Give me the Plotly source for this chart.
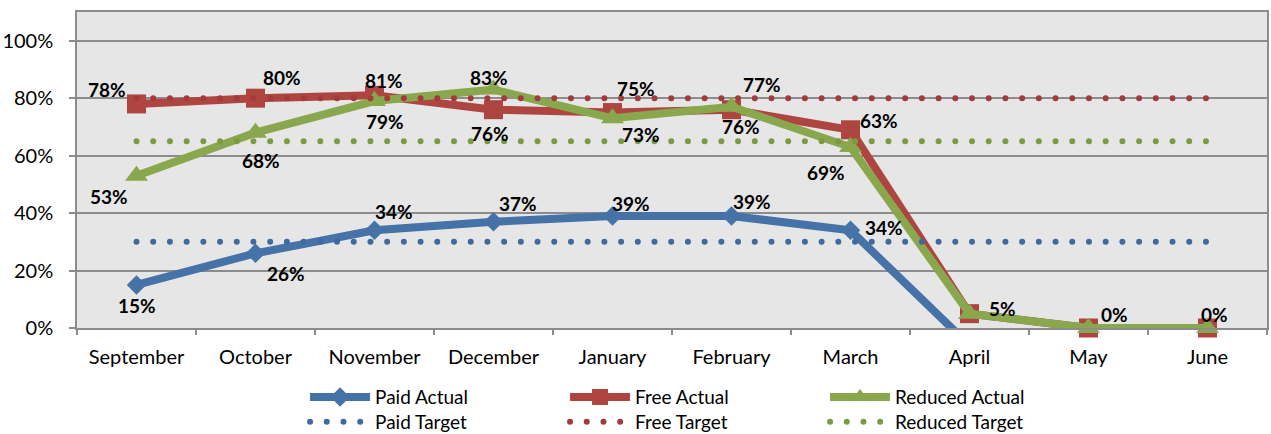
import plotly.graph_objects as go

months = ["September", "October", "November", "December", "January",
          "February", "March", "April", "May", "June"]

paid_actual = [15, 26, 34, 37, 39, 39, 34, -6, 0, 0]
free_actual = [78, 80, 81, 76, 75, 76, 69, 5, 0, 0]
reduced_actual = [53, 68, 79, 83, 73, 77, 63, 5, 0, 0]

paid_target = [30] * 10
free_target = [80] * 10
reduced_target = [65] * 10

paid_labels = ["15%", "26%", "34%", "37%", "39%", "39%", "34%", "", "", ""]
free_labels = ["78%", "80%", "81%", "76%", "75%", "76%", "69%", "5%", "0%", "0%"]
reduced_labels = ["53%", "68%", "79%", "83%", "73%", "77%", "63%", "", "", ""]

y_ticks = [0, 20, 40, 60, 80, 100]

# label offsets in pixels (style only): (dx, dy) with dy positive = down on screen
paid_off = [(0, 21), (30, 20), (19, -19), (24, -18), (18, -12), (20, -14), (33, -3), (0, 0), (0, 0), (0, 0)]
free_off = [(-30, -14), (26, -21), (9, -15), (-4, 24), (23, -24), (9, 17), (-25, 43), (33, -5), (26, -14), (7, -14)]
red_off = [(-28, 21), (5, 28), (10, 20), (-5, -12), (28, 16), (30, -22), (28, -27), (0, 0), (0, 0), (0, 0)]

C_BLUE, C_RED, C_GREEN = "#4572A7", "#AF4541", "#89A74D"
T_BLUE, T_RED, T_GREEN = "#3E69A1", "#A33B3B", "#7C9A40"
FONT = "Lato"
DOTS = "6px,10.7px"

fig = go.Figure()

fig.add_trace(go.Scatter(x=months, y=paid_actual, name="Paid Actual", mode="lines+markers",
                         line=dict(color=C_BLUE, width=8),
                         marker=dict(symbol="diamond", size=15, color=C_BLUE),
                         cliponaxis=True, legend="legend"))
fig.add_trace(go.Scatter(x=months, y=free_actual, name="Free Actual", mode="lines+markers",
                         line=dict(color=C_RED, width=8),
                         marker=dict(symbol="square", size=19, color=C_RED),
                         cliponaxis=False, legend="legend"))
fig.add_trace(go.Scatter(x=months, y=reduced_actual, name="Reduced Actual", mode="lines+markers",
                         line=dict(color=C_GREEN, width=8),
                         marker=dict(symbol="triangle-up", size=20, color=C_GREEN),
                         cliponaxis=False, legend="legend"))
fig.add_trace(go.Scatter(x=months, y=paid_target, name="Paid Target", mode="lines",
                         line=dict(color=T_BLUE, width=6, dash=DOTS), legend="legend2"))
fig.add_trace(go.Scatter(x=months, y=free_target, name="Free Target", mode="lines",
                         line=dict(color=T_RED, width=6, dash=DOTS), legend="legend2"))
fig.add_trace(go.Scatter(x=months, y=reduced_target, name="Reduced Target", mode="lines",
                         line=dict(color=T_GREEN, width=6, dash=DOTS), legend="legend2"))

annotations = []
for vals, labels, offs in [(paid_actual, paid_labels, paid_off),
                           (free_actual, free_labels, free_off),
                           (reduced_actual, reduced_labels, red_off)]:
    for m, v, t, (dx, dy) in zip(months, vals, labels, offs):
        if not t:
            continue
        annotations.append(dict(x=m, y=v, text="<b>%s</b>" % t, showarrow=False,
                                xshift=dx, yshift=-dy,
                                font=dict(family=FONT, size=19, color="#000000")))

GRID = "#8C8C8C"
fig.update_layout(
    width=1271, height=434,
    margin=dict(l=77, r=4, t=12, b=106, autoexpand=False),
    paper_bgcolor="white", plot_bgcolor="#E6E6E6",
    font=dict(family=FONT, size=20, color="#000000"),
    annotations=annotations,
    legend=dict(orientation="h", xref="container", yref="container",
                x=0.240, y=0.085, xanchor="left", yanchor="middle",
                itemwidth=60, entrywidth=185, entrywidthmode="pixels",
                font=dict(family=FONT, size=19), bgcolor="rgba(0,0,0,0)",
                traceorder="normal"),
    legend2=dict(orientation="h", xref="container", yref="container",
                 x=0.240, y=0.028, xanchor="left", yanchor="middle",
                 itemwidth=60, entrywidth=185, entrywidthmode="pixels",
                 font=dict(family=FONT, size=19), bgcolor="rgba(0,0,0,0)",
                 traceorder="normal"),
)

fig.update_xaxes(type="category", range=[-0.5, 9.5], showgrid=False, automargin=False,
                 showline=True, mirror=True, linecolor=GRID, linewidth=1.5,
                 ticks="outside", tickson="boundaries", ticklen=5, tickcolor=GRID,
                 tickwidth=1.5, ticklabelstandoff=10,
                 tickfont=dict(family=FONT, size=20, color="#000000"))
fig.update_yaxes(range=[0, 110], tickvals=y_ticks, ticktext=["%d%%" % v for v in y_ticks],
                 showgrid=True, gridcolor=GRID, gridwidth=1.5, zeroline=False, automargin=False,
                 showline=True, mirror=True, linecolor=GRID, linewidth=1.5,
                 ticks="outside", ticklen=6, tickcolor=GRID, tickwidth=1.5,
                 ticklabelstandoff=12,
                 tickfont=dict(family=FONT, size=20, color="#000000"))

post = """
document.body.style.margin = '0';
document.body.style.padding = '0';
var gd = document.getElementById('{plot_id}');
function fixDots(){
  gd.querySelectorAll('path').forEach(function(p){
    var s = p.getAttribute('style') || '';
    if (s.indexOf('10.7px') >= 0) {
      p.style.strokeDasharray = '0.01px,16.7px';
      p.style.strokeLinecap = 'round';
    }
  });
}
fixDots();
gd.on('plotly_afterplot', fixDots);
"""

fig.write_html("out.html", post_script=post, config={"displayModeBar": False})
